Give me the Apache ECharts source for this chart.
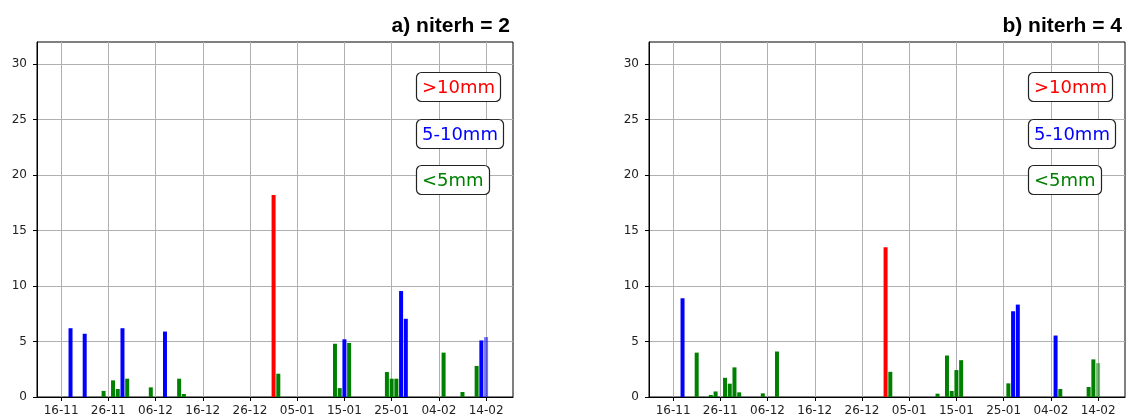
<!DOCTYPE html>
<html>
<head>
<meta charset="utf-8">
<script src="https://cdn.jsdelivr.net/npm/echarts@6/dist/echarts.min.js"></script>
<style>
  html, body { margin: 0; padding: 0; background: #fff; }
  #chart { width: 1126px; height: 418px; }
</style>
</head>
<body>
<div id="chart"></div>
<script>
// Daily precipitation (mm) for two runs, by date (DD-MM, November to February)
const tickLabels = ['16-11', '26-11', '06-12', '16-12', '26-12', '05-01', '15-01', '25-01', '04-02', '14-02'];
const yTicks = [0, 5, 10, 15, 20, 25, 30];

const datesA = ['18-11', '21-11', '25-11', '27-11', '28-11', '29-11', '30-11', '05-12', '08-12', '11-12', '12-12',
                '31-12', '01-01', '13-01', '14-01', '15-01', '16-01', '24-01', '25-01', '26-01', '27-01', '28-01',
                '05-02', '09-02', '12-02', '13-02', '14-02'];
const valuesA = [6.2, 5.7, 0.55, 1.5, 0.72, 6.2, 1.65, 0.87, 5.9, 1.65, 0.27,
                 18.2, 2.1, 4.8, 0.8, 5.2, 4.87, 2.25, 1.65, 1.65, 9.55, 7.05,
                 4.0, 0.45, 2.8, 5.1, 5.4];

const datesB = ['18-11', '21-11', '24-11', '25-11', '27-11', '28-11', '29-11', '30-11', '05-12', '08-12',
                '31-12', '01-01', '11-01', '13-01', '14-01', '15-01', '16-01', '26-01', '27-01', '28-01',
                '05-02', '06-02', '12-02', '13-02', '14-02'];
const valuesB = [8.9, 4.0, 0.18, 0.5, 1.73, 1.2, 2.67, 0.42, 0.33, 4.1,
                 13.5, 2.27, 0.3, 3.74, 0.54, 2.43, 3.32, 1.23, 7.73, 8.33,
                 5.54, 0.72, 0.9, 3.39, 3.05];

// Last day is an incomplete accumulation, drawn faded
const partialDates = ['14-02'];

const panelTitles = ['a) niterh = 2', 'b) niterh = 4'];
const classLabels = ['>10mm', '5-10mm', '<5mm'];
const classColors = ['#ff0000', '#0000ff', '#008000'];

// Day offset from 16 November (Nov/Dec belong to the first year)
function dayOffset(ddmm) {
  const [d, m] = ddmm.split('-').map(Number);
  const year = m >= 11 ? 2000 : 2001;
  const t = Date.UTC(year, m - 1, d);
  return Math.round((t - Date.UTC(2000, 10, 16)) / 86400000);
}
const tickValues = tickLabels.map(dayOffset);

function colorFor(v) {
  if (v > 10) return classColors[0];
  if (v >= 5) return classColors[1];
  return classColors[2];
}

function barData(dates, values) {
  return dates.map((d, i) => ({
    value: [dayOffset(d), values[i]],
    itemStyle: {
      color: colorFor(values[i]),
      opacity: partialDates.includes(d) ? 0.55 : 1
    }
  }));
}

const plotLefts = [37, 649];
const plotWidth = 476;
const chartWidth = 1126;

const grids = plotLefts.map(left => ({
  left: left, width: plotWidth, top: 42, bottom: 21,
  show: true, borderColor: '#000', borderWidth: 1, backgroundColor: 'transparent'
}));

const tickFont = { color: '#222', fontSize: 12, fontFamily: 'DejaVu Sans' };

const xAxes = plotLefts.map((_, i) => ({
  type: 'value', gridIndex: i, min: -5.1, max: 95.7,
  axisLine: { show: true, onZero: false, lineStyle: { color: '#000', width: 1 } },
  axisTick: { show: true, length: 4, lineStyle: { color: '#000' }, customValues: tickValues },
  axisLabel: Object.assign({
    customValues: tickValues, margin: 8,
    formatter: v => tickLabels[tickValues.indexOf(Math.round(v))] || ''
  }, tickFont),
  splitLine: { show: true, lineStyle: { color: '#b0b0b0', width: 1 } }
}));

const yAxes = plotLefts.map((_, i) => ({
  type: 'value', gridIndex: i, min: 0, max: 32,
  axisLine: { show: true, onZero: false, lineStyle: { color: '#000', width: 1 } },
  axisTick: { show: true, length: 4, lineStyle: { color: '#000' }, customValues: yTicks },
  axisLabel: Object.assign({ margin: 10, customValues: yTicks }, tickFont),
  splitLine: { show: true, lineStyle: { color: '#b0b0b0', width: 1 } }
}));

const titles = [];
plotLefts.forEach((left, i) => {
  titles.push({
    text: panelTitles[i],
    right: chartWidth - (left + plotWidth) + 3, top: 16, padding: 0,
    textStyle: { fontFamily: 'Liberation Sans', fontWeight: 'bold', fontSize: 21, color: '#000' }
  });
  const boxTops = [72, 119, 165];
  classLabels.forEach((lab, k) => {
    titles.push({
      text: lab, left: left + 379, top: boxTops[k],
      padding: [7, 6, 5, 6],
      backgroundColor: '#fff', borderColor: '#222', borderWidth: 1.2, borderRadius: 5,
      textStyle: { fontFamily: 'DejaVu Sans', fontWeight: 'normal', fontSize: 18, color: classColors[k] }
    });
  });
});

const series = [
  { type: 'bar', xAxisIndex: 0, yAxisIndex: 0, barWidth: 4, data: barData(datesA, valuesA), animation: false },
  { type: 'bar', xAxisIndex: 1, yAxisIndex: 1, barWidth: 4, data: barData(datesB, valuesB), animation: false }
];

const chart = echarts.init(document.getElementById('chart'), null, { renderer: 'canvas' });
chart.setOption({
  animation: false,
  backgroundColor: '#fff',
  title: titles,
  grid: grids,
  xAxis: xAxes,
  yAxis: yAxes,
  series: series
});
</script>
</body>
</html>
